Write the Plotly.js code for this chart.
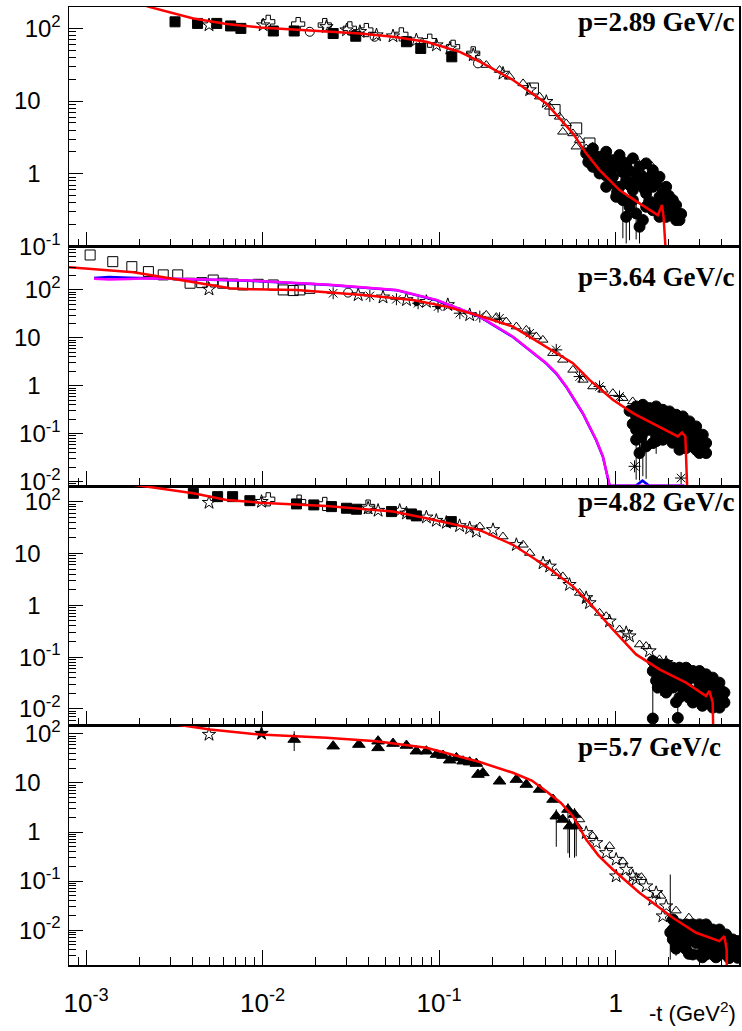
<!DOCTYPE html>
<html><head><meta charset="utf-8">
<script src="https://cdn.plot.ly/plotly-3.0.1.min.js"></script>
<style>html,body{margin:0;padding:0;background:#fff}</style>
</head><body><div id="chart" style="width:742px;height:1031px"></div>
<script>
// ---------------- data (t in GeV^2, dσ/dt values) ----------------
var PANEL_LABELS = ["p=2.89 GeV/c", "p=3.64 GeV/c", "p=4.82 GeV/c", "p=5.7 GeV/c"];
var X_TITLE = "-t (GeV<sup>2</sup>)";
var X_TICKS = [0.001, 0.01, 0.1, 1];
var X_TICK_TEXT = ["10<sup>-3</sup>", "10<sup>-2</sup>", "10<sup>-1</sup>", "1"];
var Y_TICKS = [0.01, 0.1, 1, 10, 100];
var Y_TICK_TEXT = ["10<sup>-2</sup>", "10<sup>-1</sup>", "1\u00a0\u00a0\u00a0", "10\u00a0\u00a0\u00a0", "10<sup>2</sup>"];

// Panel 1 : p = 2.89 GeV/c
var p1_model_t = [0.0016, 0.0023, 0.00405, 0.00625, 0.00966, 0.0149, 0.0356, 0.0548, 0.0847, 0.131, 0.170, 0.262, 0.405, 0.573, 0.681, 0.811, 1.052, 1.365, 1.734, 1.832, 1.87, 1.95, 2.0];
var p1_model_y = [263, 196, 137, 114.6, 103, 96.8, 85.3, 76.7, 65.5, 47.6, 34.8, 19.5, 9.29, 3.60, 1.91, 1.125, 0.597, 0.392, 0.270, 0.372, 0.25, 0.05, 0.001];
var p1_sq_t = [0.00319, 0.00428, 0.0055, 0.00659, 0.00753, 0.0115, 0.0151, 0.0251, 0.0337, 0.0653, 0.0787, 0.118];
var p1_sq_y = [123, 117, 117, 108, 100, 92, 92, 85, 78, 65.5, 53, 40.6];
var p1_star_t = [0.00497, 0.01007, 0.023, 0.0299, 0.0356, 0.0442, 0.0548, 0.0743, 0.0966, 0.115, 0.156, 0.230, 0.326, 0.405];
var p1_star_y = [111, 111, 105, 94.7, 89.9, 80.9, 78.3, 69, 58.9, 53.1, 43, 24, 14.2, 9.8];
var p1_cross_t = [0.01076, 0.0159, 0.0225, 0.0312, 0.0387, 0.0611, 0.0885, 0.12, 0.156];
var p1_cross_y = [123, 114.6, 111, 100, 94.8, 82.6, 67.6, 55.8, 45.3];
var p1_ocirc_t = [0.0185, 0.0431, 0.166];
var p1_ocirc_y = [89.8, 76.7, 33];
var p1_tri_t = [0.185, 0.220, 0.251, 0.299, 0.371, 0.423, 0.481, 0.525, 0.573, 0.625, 0.681, 0.502, 0.598, 0.74, 0.88, 1.05, 1.3, 1.6];
var p1_tri_y = [31.3, 26.7, 21.6, 17.5, 11.5, 8.35, 6.08, 4.93, 3.59, 2.91, 2.23, 3.78, 2.36, 2.35, 1.95, 1.75, 1.55, 1.28];
var p1_osq_t = [0.340, 0.451, 0.598, 0.711];
var p1_osq_y = [14.9, 7.52, 4.21, 2.61];
var p1_blob_t = [0.681, 0.743, 0.776, 0.811, 0.884, 0.965, 1.052, 1.148, 1.252, 1.366, 1.489, 1.624, 1.772, 1.933, 2.109, 0.743, 0.811, 0.884, 0.924, 0.965, 1.052, 1.148, 1.252, 1.307, 1.366, 1.489, 1.556, 1.624, 1.772, 1.933, 2.109, 2.300, 1.426, 1.489, 1.624, 1.772, 1.933, 2.202, 1.252, 1.007,
  0.70, 0.75, 0.85, 0.92, 1.0, 1.1, 1.1, 1.2, 1.2, 1.3, 1.4, 1.45, 1.55, 1.6, 1.7, 1.7, 1.85, 1.85, 2.0, 2.05, 2.2, 2.35, 0.95, 1.02, 0.88, 0.80];
var p1_blob_y = [1.91, 2.23, 1.54, 1.71, 2.01, 1.54, 1.81, 1.39, 1.63, 1.25, 1.39, 1.12, 0.910, 0.662, 0.435, 1.25, 1.01, 0.662, 1.12, 0.910, 0.662, 0.818, 0.597, 1.01, 0.736, 0.537, 0.818, 0.662, 0.483, 0.391, 0.316, 0.231, 0.231, 0.352, 0.316, 0.256, 0.256, 0.231, 0.435, 0.483,
  1.45, 1.75, 1.30, 1.50, 1.25, 1.05, 1.45, 1.10, 0.70, 0.80, 0.95, 0.62, 0.42, 0.95, 0.75, 0.40, 0.56, 0.33, 0.50, 0.27, 0.37, 0.28, 0.75, 0.56, 0.95, 1.15];
var p1_err_t = [1.099, 1.148, 1.199, 1.366, 1.307];
var p1_err_y = [0.435, 0.256, 0.352, 0.187, 0.285];
var p1_err_lo = [0.305, 0.146, 0.23, 0.077, 0.16];
var p1_err_hi = [0.15, 0.1, 0.1, 0.08, 0.1];

// Panel 2 : p = 3.64 GeV/c
var p2_model_t = [0.0008, 0.001854, 0.004416, 0.00653, 0.00847, 0.01556, 0.0371, 0.0711, 0.11, 0.17, 0.262, 0.405, 0.573, 0.711, 0.964, 1.253, 1.694, 2.249, 2.377, 2.483, 2.594];
var p2_model_y = [297, 234, 138, 108.4, 103.5, 100, 78.7, 61.9, 44.9, 28.8, 17.2, 6.59, 2.97, 1.33, 0.511, 0.27, 0.154, 0.0879, 0.1064, 0.0879, 0.001];
var p2_blue_t = [0.00111, 0.00135, 0.00175, 0.00226, 0.00847, 0.024, 0.0573, 0.0966, 0.17, 0.262, 0.405, 0.461, 0.525, 0.585, 0.652, 0.711, 0.776, 0.847, 0.904, 0.925, 1.30, 1.42, 1.55, 2.45];
var p2_blue_y = [178, 185, 180, 176, 155, 126, 99, 61, 27.5, 10.4, 2.9, 1.80, 0.95, 0.50, 0.265, 0.139, 0.073, 0.033, 0.0117, 0.0082, 0.0082, 0.0105, 0.0082, 0.0082];
var p2_mag_t = [0.00111, 0.00135, 0.00175, 0.00226, 0.00847, 0.024, 0.0573, 0.0966, 0.17, 0.262, 0.405, 0.461, 0.525, 0.585, 0.652, 0.711, 0.776, 0.847, 0.904, 0.925, 2.45];
var p2_mag_y = [172, 166, 170, 175, 157, 128, 100, 62, 27.8, 10.6, 2.97, 1.84, 0.968, 0.511, 0.27, 0.142, 0.075, 0.0337, 0.0119, 0.0082, 0.0082];
var p2_osq_t = [0.001054, 0.001416, 0.001816, 0.002254, 0.002735, 0.003304, 0.003882, 0.004519, 0.005248, 0.005943, 0.006823, 0.00771, 0.00944, 0.01148, 0.01309, 0.0149, 0.01626, 0.01854];
var p2_osq_y = [536, 389, 306, 241, 206, 206, 138, 142, 161, 138, 133, 127, 131, 127, 100, 97, 100, 108];
var p2_star_t = [0.00497, 0.0348, 0.0481, 0.0653, 0.0847, 0.112, 0.149];
var p2_star_y = [103.5, 78.7, 70.5, 62, 57, 48.8, 30.1];
var p2_ast_t = [0.0251, 0.0405, 0.0573, 0.076, 0.0986, 0.131, 0.17, 0.22, 0.326, 0.461, 0.625, 0.811, 1.052, 1.28, 2.35];
var p2_ast_y = [85.3, 75, 64, 52.8, 44.9, 32.7, 27.8, 25.7, 12.5, 5.62, 1.56, 0.968, 0.600, 0.0209, 0.0119];
var p2_ocirc_t = [0.0305];
var p2_ocirc_y = [87.9];
var p2_dot_t = [0.0743, 0.0986];
var p2_dot_y = [52.8, 44.9];
var p2_tri_t = [0.185, 0.211, 0.240, 0.274, 0.312, 0.355, 0.387, 0.441, 0.502, 0.573, 0.653, 0.743, 0.847, 0.964, 1.099, 1.25];
var p2_tri_y = [30.1, 27, 21.9, 17.2, 14.7, 10.7, 9.08, 4.80, 3.48, 2.15, 1.33, 0.968, 0.826, 0.703, 0.553, 0.472];
var p2_blob_t = [1.307, 1.426, 1.556, 1.697, 1.851, 2.018, 2.202, 2.402, 2.619, 2.858, 3.117, 3.255, 1.307, 1.426, 1.556, 1.697, 1.851, 2.018, 2.202, 2.402, 2.619, 2.858, 3.117, 3.255, 1.307, 1.556, 1.851, 2.018, 2.202, 2.402, 2.619, 2.858, 1.624, 2.300, 2.985,
  1.37, 1.5, 1.62, 1.78, 1.95, 2.1, 2.3, 2.5, 2.75, 3.0, 1.37, 1.5, 1.62, 1.78, 1.95, 2.1, 2.3, 2.5, 2.75, 3.05, 1.4, 1.7, 2.1, 2.5, 1.2, 1.25];
var p2_blob_y = [0.371, 0.402, 0.343, 0.371, 0.316, 0.292, 0.249, 0.230, 0.181, 0.142, 0.0953, 0.064, 0.230, 0.196, 0.230, 0.181, 0.196, 0.167, 0.142, 0.131, 0.103, 0.075, 0.0545, 0.0396, 0.121, 0.121, 0.075, 0.0881, 0.075, 0.064, 0.0545, 0.0464, 0.064, 0.0464, 0.0396,
  0.30, 0.27, 0.28, 0.25, 0.23, 0.20, 0.18, 0.16, 0.12, 0.09, 0.15, 0.16, 0.15, 0.13, 0.12, 0.11, 0.10, 0.085, 0.065, 0.055, 0.085, 0.07, 0.065, 0.05, 0.30, 0.16];
var p2_err_t = [1.307, 1.366, 1.489, 1.426, 1.697];
var p2_err_y = [0.075, 0.0396, 0.0545, 0.103, 0.0881];
var p2_err_lo = [0.064, 0.029, 0.043, 0.09, 0.05];
var p2_err_hi = [0.04, 0.03, 0.03, 0.04, 0.03];

// Panel 3 : p = 4.82 GeV/c
var p3_model_t = [0.00126, 0.00211, 0.00405, 0.00625, 0.00966, 0.0230, 0.0548, 0.0847, 0.170, 0.262, 0.405, 0.573, 0.711, 0.964, 1.306, 1.770, 2.506, 3.251, 3.396, 3.548, 3.597];
var p3_model_y = [257, 200, 145, 108, 95.7, 82.6, 64.3, 48.0, 28.2, 14.7, 5.62, 2.32, 1.11, 0.341, 0.1127, 0.0579, 0.0322, 0.0178, 0.0222, 0.0133, 0.001];
var p3_sq_t = [0.00405, 0.00556, 0.00676, 0.00847, 0.01556, 0.0195, 0.02455, 0.02985, 0.0340, 0.0537, 0.0697, 0.0743, 0.1172];
var p3_sq_y = [145, 125, 125, 104.5, 90.4, 86.5, 80.2, 74.6, 71.4, 64.3, 57.9, 53.1, 41.2];
var p3_star_t = [0.00497, 0.00986, 0.0396, 0.0451, 0.0598, 0.0653, 0.0847, 0.0964, 0.1099, 0.1306, 0.149, 0.1625, 0.202, 0.274, 0.388, 0.548, 0.711, 0.924, 1.197, 1.556, 0.423, 0.681, 1.148, 1.932, 2.30];
var p3_star_y = [95.8, 100, 74.5, 67.3, 67.3, 59.7, 50, 43.1, 39.5, 34.1, 30.8, 26.5, 28.6, 14.7, 6.53, 2.50, 1.11, 0.493, 0.254, 0.131, 5.64, 1.39, 0.294, 0.078, 0.058];
var p3_cross_t = [0.01076, 0.0161, 0.0225, 0.0396];
var p3_cross_y = [111, 100, 90.3, 80.3];
var p3_tri_t = [0.170, 0.230, 0.326, 0.461, 0.625, 0.811, 1.052, 1.366, 1.772, 0.299, 0.502, 0.885, 1.489];
var p3_tri_y = [33.1, 21.2, 10.2, 4.19, 1.73, 0.713, 0.341, 0.175, 0.0903, 14.7, 3.61, 0.615, 0.163];
var p3_blob_t = [1.624, 1.772, 1.933, 2.109, 2.300, 2.508, 2.736, 2.985, 3.255, 3.550, 3.873, 4.134, 1.624, 1.772, 1.933, 2.109, 2.300, 2.508, 2.736, 2.985, 3.255, 3.550, 3.873, 4.134, 1.734, 1.933, 2.109, 2.300, 2.508, 2.736, 2.985, 3.255, 3.550, 3.873,
  1.7, 1.85, 2.0, 2.2, 2.4, 2.6, 2.85, 3.1, 3.4, 3.7, 4.0, 1.7, 1.85, 2.0, 2.2, 2.4, 2.6, 2.85, 3.1, 3.4, 3.7, 4.0, 2.2, 2.6, 3.1];
var p3_blob_y = [0.0839, 0.0724, 0.0724, 0.0625, 0.0625, 0.0625, 0.0540, 0.0540, 0.0465, 0.0401, 0.0321, 0.0207, 0.0540, 0.0465, 0.0401, 0.0465, 0.0401, 0.0321, 0.0401, 0.0321, 0.0258, 0.0207, 0.0166, 0.0133, 0.0258, 0.0207, 0.0258, 0.0166, 0.0207, 0.0133, 0.0166, 0.0133, 0.0106, 0.0106,
  0.065, 0.060, 0.055, 0.050, 0.050, 0.045, 0.045, 0.038, 0.033, 0.027, 0.022, 0.035, 0.030, 0.032, 0.028, 0.025, 0.024, 0.022, 0.020, 0.016, 0.013, 0.017, 0.0135, 0.0165, 0.0115];
var p3_err_t = [1.624, 2.250, 1.70, 1.80];
var p3_err_y = [0.00653, 0.0067, 0.035, 0.030];
var p3_err_lo = [0.001, 0.001, 0.015, 0.012];
var p3_err_hi = [0.05, 0.009, 0.01, 0.01];

// Panel 4 : p = 5.7 GeV/c
var p4_model_t = [0.002, 0.00326, 0.00504, 0.00966, 0.0230, 0.0442, 0.0847, 0.170, 0.262, 0.335, 0.405, 0.49, 0.573, 0.681, 0.80, 0.964, 1.365, 2.109, 2.858, 3.873, 4.130, 4.256, 4.30];
var p4_model_y = [200, 154.5, 122.5, 96.8, 83, 70.6, 51.9, 26.6, 16.1, 11.2, 6.78, 3.9, 2.10, 0.703, 0.33, 0.172, 0.0578, 0.0179, 0.00885, 0.00597, 0.00755, 0.00405, 0.0001];
var p4_star_t = [0.00497, 0.681, 0.776, 0.885, 1.007, 1.148, 1.307, 1.489, 1.697, 1.933, 1.007, 1.252, 1.624, 1.851];
var p4_star_y = [96.8, 0.962, 0.601, 0.376, 0.275, 0.172, 0.108, 0.0789, 0.0577, 0.0309, 0.126, 0.126, 0.0422, 0.0193];
var p4_fstar_t = [0.00986];
var p4_fstar_y = [101.4];
var p4_tri_t = [0.0151, 0.0251, 0.0351, 0.0451, 0.0451, 0.0548, 0.0653, 0.0743, 0.0847, 0.0966, 0.1052, 0.1148, 0.1253, 0.1366, 0.149, 0.1625, 0.166, 0.177, 0.220, 0.274, 0.312, 0.371, 0.442, 0.461, 0.537, 0.585, 0.598, 0.502, 0.548];
var p4_tri_y = [76.6, 56, 60.5, 51.8, 70.8, 63.4, 57.8, 44.3, 44.3, 37.9, 36.1, 29, 32.3, 27.7, 26.5, 24.8, 14.8, 16.0, 10.8, 11.7, 9.27, 7.34, 4.59, 2.10, 2.87, 2.27, 1.32, 1.80, 1.32];
var p4_tri_lo = [32, 0, 0, 0, 0, 0, 0, 0, 0, 0, 0, 0, 0, 0, 0, 0, 0, 0, 0, 0, 0, 0, 0, 1.6, 2.5, 1.97, 1.0, 0, 1.02];
var p4_tri_hi = [36, 0, 0, 0, 0, 0, 0, 0, 0, 0, 0, 0, 0, 0, 0, 0, 0, 0, 0, 0, 0, 0, 0, 0.8, 1.0, 0.8, 0.5, 0, 0.5];
var p4_otri_t = [0.625, 0.743, 0.924, 1.1, 1.4, 1.8, 2.2, 2.6];
var p4_otri_y = [1.80, 0.822, 0.515, 0.25, 0.12, 0.05, 0.025, 0.018];
var p4_blob_t = [2.109, 2.300, 2.508, 2.736, 2.985, 3.255, 3.550, 3.873, 4.225, 4.608, 2.109, 2.300, 2.508, 2.736, 2.985, 3.255, 3.550, 3.873, 4.225, 4.608, 4.918, 2.109, 2.300, 2.508, 2.736, 2.985, 3.255, 3.550, 3.873, 4.225, 4.918,
  2.2, 2.4, 2.6, 2.85, 3.1, 3.4, 3.7, 4.0, 4.4, 2.2, 2.4, 2.6, 2.85, 3.1, 3.4, 3.7, 4.0, 4.4, 4.75, 4.9, 2.2, 2.6, 3.1, 3.7, 4.4];
var p4_blob_y = [0.0165, 0.0131, 0.0131, 0.0131, 0.0131, 0.0131, 0.0103, 0.0103, 0.00817, 0.00647, 0.0103, 0.00817, 0.00817, 0.00647, 0.00817, 0.00647, 0.00647, 0.00512, 0.00512, 0.00405, 0.0032, 0.00647, 0.00512, 0.00405, 0.0032, 0.0032, 0.0032, 0.0032, 0.0032, 0.0032, 0.00274,
  0.0135, 0.011, 0.0105, 0.0105, 0.010, 0.0098, 0.0085, 0.008, 0.0065, 0.0075, 0.0065, 0.006, 0.0055, 0.005, 0.0048, 0.0042, 0.004, 0.0036, 0.0045, 0.006, 0.0042, 0.0033, 0.0028, 0.0028, 0.0027];
var p4_err_t = [2.04, 2.2];
var p4_err_y = [0.009, 0.005];
var p4_err_lo = [0.0065, 0.002];
var p4_err_hi = [0.127, 0.004];

// ---------------- figure ----------------
function axn(i, k) { return i === 1 ? k : k + i; }
function pts(i, t, y, symbol, size, errLo, errHi, lw) {
  var tr = {
    type: 'scatter', mode: 'markers', x: t, y: y,
    xaxis: axn(i, 'x'), yaxis: axn(i, 'y'), showlegend: false, hoverinfo: 'skip',
    marker: { symbol: symbol, size: size, color: 'black', line: { color: 'black', width: lw || 1 } }
  };
  if (errLo) tr.error_y = { type: 'data', symmetric: false, array: errHi, arrayminus: errLo, color: 'black', thickness: 1, width: 0 };
  return tr;
}
function line(i, t, y, color, w) {
  return { type: 'scatter', mode: 'lines', x: t, y: y, xaxis: axn(i, 'x'), yaxis: axn(i, 'y'),
    showlegend: false, hoverinfo: 'skip', line: { color: color, width: w || 2.5 } };
}

var traces = [
  // panel 1
  pts(1, p1_sq_t, p1_sq_y, 'square', 10),
  pts(1, p1_star_t, p1_star_y, 'star-open', 10),
  pts(1, p1_cross_t, p1_cross_y, 'cross-open', 11),
  pts(1, p1_ocirc_t, p1_ocirc_y, 'circle-open', 9),
  pts(1, p1_tri_t, p1_tri_y, 'triangle-up-open', 9),
  pts(1, p1_osq_t, p1_osq_y, 'square-open', 11),
  pts(1, p1_blob_t, p1_blob_y, 'circle', 11),
  pts(1, p1_err_t, p1_err_y, 'circle', 11, p1_err_lo, p1_err_hi),
  line(1, p1_model_t, p1_model_y, '#ff0000'),
  // panel 2
  pts(2, p2_osq_t, p2_osq_y, 'square-open', 10),
  pts(2, p2_star_t, p2_star_y, 'star-open', 10),
  pts(2, p2_ast_t, p2_ast_y, 'asterisk-open', 10),
  pts(2, p2_ocirc_t, p2_ocirc_y, 'circle-open', 9),
  pts(2, p2_dot_t, p2_dot_y, 'circle', 5),
  pts(2, p2_tri_t, p2_tri_y, 'triangle-up-open', 9),
  pts(2, p2_blob_t, p2_blob_y, 'circle', 11),
  pts(2, p2_err_t, p2_err_y, 'circle', 11, p2_err_lo, p2_err_hi),
  line(2, p2_blue_t, p2_blue_y, '#0000ff'),
  line(2, p2_mag_t, p2_mag_y, '#ff00ff'),
  line(2, p2_model_t, p2_model_y, '#ff0000'),
  // panel 3
  pts(3, p3_sq_t, p3_sq_y, 'square', 10),
  pts(3, p3_star_t, p3_star_y, 'star-open', 10),
  pts(3, p3_cross_t, p3_cross_y, 'cross-open', 11),
  pts(3, p3_tri_t, p3_tri_y, 'triangle-up-open', 9),
  pts(3, p3_blob_t, p3_blob_y, 'circle', 11),
  pts(3, p3_err_t, p3_err_y, 'circle', 11, p3_err_lo, p3_err_hi),
  line(3, p3_model_t, p3_model_y, '#ff0000'),
  // panel 4
  pts(4, p4_star_t, p4_star_y, 'star-open', 10),
  pts(4, p4_fstar_t, p4_fstar_y, 'star', 10),
  pts(4, p4_tri_t, p4_tri_y, 'triangle-up', 11, p4_tri_lo, p4_tri_hi),
  pts(4, p4_otri_t, p4_otri_y, 'triangle-up-open', 9),
  pts(4, p4_blob_t, p4_blob_y, 'circle', 11),
  pts(4, p4_err_t, p4_err_y, 'circle', 11, p4_err_lo, p4_err_hi),
  line(4, p4_model_t, p4_model_y, '#ff0000')
];

// minor tick positions 2..9 per decade
var MINOR = [];
for (var k = -4; k <= 3; k++) for (var m = 2; m <= 9; m++) MINOR.push(m * Math.pow(10, k));

var FONT = 'Liberation Sans, Arial, sans-serif';
function xax(i, showLabels) {
  return {
    type: 'log', range: [Math.log10(0.0008), Math.log10(5)], domain: [0, 1], anchor: axn(i, 'y'),
    showgrid: false, zeroline: false, showline: true, mirror: true, linecolor: 'black', linewidth: 1.5,
    ticks: 'inside', ticklen: 15, tickwidth: 1, tickcolor: 'black',
    tickmode: 'array', tickvals: X_TICKS, ticktext: X_TICK_TEXT,
    showticklabels: showLabels, ticklabelstandoff: 14,
    tickfont: { family: FONT, size: 26, color: 'black' },
    minor: { tickmode: 'array', tickvals: MINOR, ticks: 'inside', ticklen: 8, tickwidth: 1, tickcolor: 'black', showgrid: false }
  };
}
function yax(i, domain, range) {
  return {
    type: 'log', range: range, domain: domain, anchor: axn(i, 'x'),
    showgrid: false, zeroline: false, showline: true, mirror: true, linecolor: 'black', linewidth: 1.5,
    ticks: 'inside', ticklen: 14, tickwidth: 1, tickcolor: 'black',
    tickmode: 'array', tickvals: Y_TICKS, ticktext: Y_TICK_TEXT, ticklabelstandoff: 2,
    tickfont: { family: FONT, size: 24, color: 'black' },
    minor: { tickmode: 'array', tickvals: MINOR, ticks: 'inside', ticklen: 7, tickwidth: 1, tickcolor: 'black', showgrid: false }
  };
}

var LABEL_FONT = { family: 'Liberation Serif, Times New Roman, serif', size: 27, color: 'black', weight: 'bold' };
var layout = {
  width: 742, height: 1031,
  margin: { l: 69, r: 3, t: 7, b: 66 },
  paper_bgcolor: 'white', plot_bgcolor: 'white',
  showlegend: false,
  xaxis: xax(1, false), xaxis2: xax(2, false), xaxis3: xax(3, false), xaxis4: xax(4, true),
  yaxis: yax(1, [0.75, 1], [-1, 2.294]),
  yaxis2: yax(2, [0.5, 0.75], [-2.09, 2.906]),
  yaxis3: yax(3, [0.25, 0.5], [-2.32, 2.302]),
  yaxis4: yax(4, [0, 0.25], [-2.71, 2.17]),
  annotations: [
    { text: PANEL_LABELS[0], xref: 'paper', yref: 'paper', x: 0.757, y: 0.9847, xanchor: 'left', yanchor: 'middle', showarrow: false, font: LABEL_FONT },
    { text: PANEL_LABELS[1], xref: 'paper', yref: 'paper', x: 0.757, y: 0.7182, xanchor: 'left', yanchor: 'middle', showarrow: false, font: LABEL_FONT },
    { text: PANEL_LABELS[2], xref: 'paper', yref: 'paper', x: 0.757, y: 0.4836, xanchor: 'left', yanchor: 'middle', showarrow: false, font: LABEL_FONT },
    { text: PANEL_LABELS[3], xref: 'paper', yref: 'paper', x: 0.757, y: 0.2279, xanchor: 'left', yanchor: 'middle', showarrow: false, font: LABEL_FONT },
    { text: X_TITLE, xref: 'paper', yref: 'paper', x: 0.9985, y: -0.049, xanchor: 'right', yanchor: 'middle', showarrow: false, font: { family: FONT, size: 22, color: 'black' } }
  ]
};

Plotly.newPlot('chart', traces, layout, { staticPlot: true, displayModeBar: false });
</script></body></html>
